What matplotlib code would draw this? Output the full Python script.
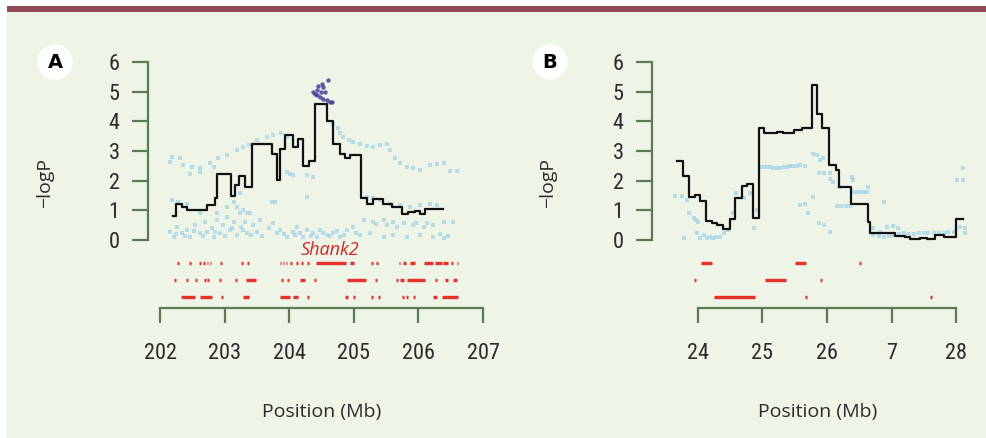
import matplotlib
matplotlib.use("Agg")
import matplotlib.pyplot as plt
from matplotlib.patches import Rectangle
from matplotlib import font_manager as fm
import logging
logging.getLogger('matplotlib.font_manager').setLevel(logging.ERROR)

_installed = {f.name for f in fm.fontManager.ttflist}
_fams = [f for f in ['Liberation Sans Narrow', 'Roboto Condensed', 'DejaVu Sans Condensed',
                     'Open Sans Condensed', 'Roboto'] if f in _installed]
plt.rcParams['font.family'] = _fams[:1] + ['DejaVu Sans']
TITLE_FAM = ['Open Sans', 'DejaVu Sans']

# ---------------- data: panel A ----------------
a_edges = [202.196, 202.248, 202.335, 202.423, 202.733, 202.851, 202.888, 203.094, 203.161,
           203.228, 203.316, 203.419, 203.729, 203.816, 203.858, 203.935, 204.064, 204.141,
           204.219, 204.312, 204.399, 204.580, 204.683, 204.786, 204.864, 204.941, 205.106,
           205.199, 205.302, 205.457, 205.586, 205.741, 205.844, 205.947, 206.025, 206.102, 206.386]
a_vals = [0.81, 1.23, 1.12, 1.01, 1.18, 1.43, 2.22, 1.48, 1.87, 2.15, 1.77, 3.22, 2.91, 2.02,
          3.08, 3.53, 3.14, 3.41, 2.49, 2.67, 4.57, 4.00, 3.23, 2.89, 2.78, 2.87, 1.43, 1.23,
          1.37, 1.21, 1.12, 0.86, 0.93, 0.98, 0.87, 1.03]

a_snp_x = [202.15, 202.31, 202.36, 202.49, 202.62, 202.77, 202.90, 203.03, 203.19, 203.29, 203.37,
           203.50, 203.65, 203.75, 203.88, 203.96, 202.46, 202.62, 202.83, 202.18,
           204.68, 204.76, 204.79, 204.84, 204.92, 204.99, 205.10, 205.20, 205.30, 205.41, 205.51,
           205.56, 205.64, 205.72, 205.82, 205.92, 206.02, 206.18, 206.28, 206.39, 206.49, 206.59,
           203.96, 204.01, 204.06, 204.27, 204.37, 203.73, 203.78, 204.27,
           205.20, 205.30, 205.41, 205.56, 205.72, 205.87, 206.02, 206.18, 206.28,
           205.15, 205.30, 205.46, 205.61, 205.77, 205.92, 206.08, 206.23, 206.39, 206.54,
           205.10, 205.25, 205.46, 205.61, 205.82, 206.02, 206.23, 206.39,
           202.15, 202.21, 202.26, 202.34, 202.41, 202.46, 202.54, 202.62, 202.70, 202.72, 202.80,
           202.83, 202.88, 202.93, 202.98, 203.03, 203.08, 203.14, 203.19, 203.24, 203.26, 203.32,
           203.34, 203.39, 203.44, 203.50, 203.55, 203.75, 203.81, 203.86, 203.96, 204.06, 204.12,
           204.17, 204.22, 204.27, 204.37, 204.43, 204.48, 204.58, 204.68, 204.79, 204.89, 204.99,
           205.04,
           203.24, 203.14, 203.19, 203.29, 203.34, 203.03, 202.18, 202.28, 202.41, 202.62, 202.88,
           202.24, 202.38, 202.52, 202.66, 202.85, 203.00, 203.11, 203.28, 203.41, 203.58, 203.69,
           203.92, 204.09, 204.33, 204.52, 204.63, 204.74, 204.85, 205.35, 205.51, 205.67, 205.97,
           206.13, 206.33, 206.46]
a_snp_y = [2.63, 2.75, 2.52, 2.47, 2.41, 2.58, 2.75, 2.86, 3.03, 3.14, 3.20,
           3.36, 3.48, 3.53, 3.61, 3.48, 2.24, 2.30, 2.47, 2.80,
           3.92, 3.76, 3.59, 3.48, 3.36, 3.31, 3.25, 3.16, 3.14, 3.20, 3.25,
           3.03, 2.75, 2.58, 2.47, 2.41, 2.35, 2.52, 2.56, 2.58, 2.33, 2.33,
           2.30, 2.24, 2.19, 2.19, 2.13, 1.29, 1.27, 1.46,
           1.46, 1.40, 1.35, 1.23, 1.18, 1.12, 1.18, 1.23, 1.18,
           0.67, 0.62, 0.67, 0.62, 0.56, 0.50, 0.45, 0.50, 0.62, 0.62,
           0.17, 0.22, 0.11, 0.17, 0.11, 0.17, 0.11, 0.06,
           0.28, 0.11, 0.45, 0.22, 0.34, 0.11, 0.50, 0.22, 0.62, 0.28, 0.39,
           0.11, 0.67, 0.22, 0.50, 0.78, 0.34, 0.62, 0.17, 0.90, 0.45, 0.62,
           0.22, 0.90, 0.50, 0.28, 0.67, 0.56, 0.22, 0.34, 0.11, 0.28, 0.45,
           0.22, 0.11, 0.34, 0.22, 0.11, 0.34, 0.17, 0.22, 0.11, 0.34, 0.45,
           0.22,
           1.57, 1.29, 1.12, 1.01, 0.90, 1.12, 1.35, 1.29, 1.23, 0.90, 0.90,
           0.20, 0.15, 0.30, 0.14, 0.28, 0.15, 0.42, 0.35, 0.18, 0.12, 0.40,
           0.20, 0.18, 0.12, 0.25, 0.14, 0.30, 0.16, 0.55, 0.50, 0.45, 0.58,
           0.56, 0.20, 0.15]

a_top_x = [204.40, 204.43, 204.45, 204.50, 204.53, 204.55, 204.48, 204.53, 204.58, 204.63,
           204.67, 204.60, 204.43, 204.49, 204.37]
a_top_y = [4.93, 5.04, 5.20, 5.27, 5.16, 4.99, 4.82, 4.76, 4.71, 4.65, 4.65, 5.38, 4.88, 4.99, 4.99]

a_gene_start = [202.26, 202.45, 202.61, 202.67, 202.73, 202.77, 202.93, 203.26, 203.35, 203.85,
                203.90, 203.95, 204.01, 204.11, 204.19, 204.27, 204.42, 204.94, 205.27, 205.35,
                205.70, 205.76, 205.87, 206.09, 206.25, 206.38, 206.51, 206.59,
                202.22, 202.40, 202.54, 202.68, 202.73, 202.92, 203.16, 203.33, 203.87, 203.97,
                204.16, 204.39, 204.90, 205.33, 205.65, 205.72, 205.83, 206.25, 206.41, 206.54,
                202.32, 202.62, 202.94, 203.28, 203.85, 204.06, 204.27, 204.86, 204.99, 205.27,
                205.38, 205.74, 205.81, 205.92, 206.22, 206.36]
a_gene_end = [202.29, 202.48, 202.63, 202.70, 202.75, 202.79, 202.96, 203.29, 203.38, 203.87,
              203.92, 203.97, 204.04, 204.14, 204.22, 204.30, 204.88, 205.00, 205.30, 205.38,
              205.72, 205.81, 205.94, 206.22, 206.36, 206.46, 206.54, 206.62,
              202.25, 202.43, 202.57, 202.71, 202.76, 202.95, 203.19, 203.49, 203.90, 204.00,
              204.24, 204.42, 205.19, 205.36, 205.68, 205.77, 206.10, 206.28, 206.46, 206.59,
              202.54, 202.80, 202.97, 203.38, 204.01, 204.14, 204.30, 204.91, 205.02, 205.30,
              205.41, 205.77, 205.84, 205.95, 206.28, 206.61]
a_gene_row = [1] * 28 + [2] * 20 + [3] * 16

# ---------------- data: panel B ----------------
b_edges = [23.675, 23.768, 23.866, 23.959, 24.036, 24.129, 24.217, 24.294, 24.398, 24.501,
           24.578, 24.681, 24.769, 24.862, 24.950, 25.027, 25.224, 25.327, 25.492, 25.611,
           25.766, 25.843, 25.931, 26.039, 26.142, 26.194, 26.370, 26.643, 26.669, 26.927,
           27.056, 27.211, 27.289, 27.444, 27.547, 27.676, 27.805, 28.001, 28.104]
b_vals = [2.67, 2.15, 1.46, 1.51, 1.32, 0.64, 0.58, 0.50, 0.37, 0.71, 1.43, 1.82, 1.88, 0.73,
          3.79, 3.59, 3.64, 3.62, 3.72, 3.76, 5.21, 4.23, 3.76, 2.52, 2.35, 1.79, 1.23, 0.62,
          0.25, 0.22, 0.15, 0.09, 0.02, 0.06, 0.02, 0.17, 0.11, 0.70]

b_snp_x = [23.65, 23.75, 23.83, 23.86, 23.94, 23.98, 24.01, 23.78,
           23.99, 24.09, 24.19, 24.29, 24.40, 24.47, 24.04, 24.14, 24.24, 24.34,
           24.55, 24.60, 24.71, 24.81, 24.87, 24.92,
           24.97, 25.02, 25.07, 25.12, 25.17, 25.22, 25.28, 25.33, 25.38, 25.43, 25.48, 25.53,
           25.58, 25.66,
           25.58, 25.66, 25.71,
           25.79, 25.84, 25.89, 25.94,
           25.87, 25.95, 26.05,
           25.87, 25.95, 26.05, 25.79,
           26.05, 26.10, 26.18,
           26.15, 26.22, 26.30, 26.36,
           26.39, 26.41, 26.41, 26.47, 26.51, 26.57, 26.62, 26.64, 26.88,
           26.72, 26.82, 26.93, 27.03, 27.10,
           26.72, 26.80, 26.88, 26.96, 27.03, 27.11, 27.19, 27.27, 27.34, 27.42, 27.50, 27.57,
           27.65, 27.73, 27.81, 27.88, 27.96,
           28.01, 28.11, 28.11, 28.06, 28.14, 28.14]
b_snp_y = [1.48, 1.48, 1.35, 0.90, 0.73, 0.67, 0.62, 0.06,
           0.25, 0.17, 0.11, 0.11, 0.22, 0.34, 0.08, 0.06, 0.08, 0.10,
           0.90, 1.57, 1.40, 1.57, 0.39, 1.01,
           2.47, 2.46, 2.47, 2.45, 2.44, 2.43, 2.43, 2.45, 2.47, 2.48, 2.49, 2.50,
           2.52, 2.49,
           1.18, 1.23, 0.90,
           2.89, 2.86, 2.71, 2.75,
           2.26, 2.26, 2.26,
           0.56, 0.50, 0.28, 1.46,
           2.07, 1.96, 1.79,
           1.14, 1.14, 1.14, 1.14,
           2.13, 2.02, 1.63, 1.63, 1.63, 1.63, 1.63, 1.79, 1.27,
           0.39, 0.28, 0.45, 0.47, 0.40,
           0.17, 0.14, 0.11, 0.14, 0.17, 0.20, 0.22, 0.21, 0.20, 0.22, 0.25, 0.24,
           0.22, 0.24, 0.25, 0.26, 0.28,
           2.02, 2.02, 2.41, 0.45, 0.39, 0.22]

b_gene_start = [24.05, 25.51, 26.49, 23.94, 25.04, 25.90, 24.25, 25.66, 27.59]
b_gene_end = [24.22, 25.68, 26.52, 23.97, 25.37, 25.93, 24.89, 25.69, 27.62]
b_gene_row = [1, 1, 1, 2, 2, 2, 3, 3, 3]

a_ticks = [202, 203, 204, 205, 206, 207]
a_ticklabels = ["202", "203", "204", "205", "206", "207"]
b_ticks = [24, 25, 26, 27, 28]
b_ticklabels = ["24", "25", "26", "7", "28"]
y_ticks = [0, 1, 2, 3, 4, 5, 6]
row_y = {1: -0.78, 2: -1.35, 3: -1.92}

# ---------------- styling ----------------
W, H = 987, 438
BG = '#eef4e6'
SPINE = '#5d7a55'
TXT = '#2b2b2b'
LIGHT = '#9fd2e6'
DARK = '#3b3596'
RED = '#e8302a'
FS = 16 if _fams and _fams[0] != 'Roboto' else 15

fig = plt.figure(figsize=(W / 100, H / 100), dpi=100, facecolor='white')
fig.patches.append(Rectangle((7 / W, 0), 980 / W, 426 / H, transform=fig.transFigure,
                             facecolor=BG, edgecolor='none', zorder=-10))
fig.patches.append(Rectangle((7 / W, (H - 12) / H), 980 / W, 6 / H, transform=fig.transFigure,
                             facecolor='#8f4a53', edgecolor='none', zorder=-9))

PX_Y = 29.67   # px per -logP unit
PX_X = 64.6    # px per Mb
YMIN, YMAX = -3.0, 6.3


def make_axes(left_px, x0, x1):
    top_px = 240 - YMAX * PX_Y
    bot_px = 240 - YMIN * PX_Y
    width_px = (x1 - x0) * PX_X
    ax = fig.add_axes([left_px / W, (H - bot_px) / H, width_px / W, (bot_px - top_px) / H])
    ax.set_facecolor('none')
    ax.set_xlim(x0, x1)
    ax.set_ylim(YMIN, YMAX)
    for s in ['top', 'right']:
        ax.spines[s].set_visible(False)
    for s in ['left', 'bottom']:
        ax.spines[s].set_color(SPINE)
        ax.spines[s].set_linewidth(1.6)
    ax.spines['left'].set_bounds(0, 6)
    ax.spines['bottom'].set_position(('data', (240 - 308) / PX_Y))
    ax.set_yticks(y_ticks)
    ax.set_yticklabels([str(t) for t in y_ticks])
    ax.tick_params(axis='y', direction='out', length=11.5, width=1.6, color=SPINE,
                   labelsize=FS, labelcolor=TXT, pad=9)
    ax.tick_params(axis='x', direction='out', length=11, width=1.6, color=SPINE,
                   labelsize=FS, labelcolor=TXT, pad=14)
    return ax


def draw_genes(ax, starts, ends, rows):
    for s, e, r in zip(starts, ends, rows):
        ax.plot([s, e], [row_y[r], row_y[r]], color=RED, lw=2.4, solid_capstyle='butt',
                clip_on=False)


# Panel A
axA = make_axes(148, 201.814, 207.1)
axA.scatter(a_snp_x, a_snp_y, s=5, marker='s', color=LIGHT, alpha=0.7, linewidths=0, zorder=2)
axA.scatter(a_top_x, a_top_y, s=10, marker='o', color=DARK, alpha=0.8, linewidths=0, zorder=3)
axA.step(a_edges, a_vals + [a_vals[-1]], where='post', color='#111111', lw=1.6, zorder=4)
draw_genes(axA, a_gene_start, a_gene_end, a_gene_row)
axA.text(204.63, -0.34, 'Shank2', color='#d3262b', style='italic', fontsize=13,
         family=TITLE_FAM, ha='center', va='center')
axA.spines['bottom'].set_bounds(202, 207)
axA.set_xticks(a_ticks)
axA.set_xticklabels(a_ticklabels)

# Panel B
axB = make_axes(652, 23.292, 28.25)
axB.scatter(b_snp_x, b_snp_y, s=5, marker='s', color=LIGHT, alpha=0.7, linewidths=0, zorder=2)
axB.step(b_edges, b_vals + [b_vals[-1]], where='post', color='#111111', lw=1.6, zorder=4)
draw_genes(axB, b_gene_start, b_gene_end, b_gene_row)
axB.spines['bottom'].set_bounds(24, 28)
axB.set_xticks(b_ticks)
axB.set_xticklabels(b_ticklabels)

# labels
for cx in [45, 548]:
    fig.text(cx / W, 1 - 183 / H, '\u2212logP', rotation=90, ha='center', va='center',
             fontsize=14, color=TXT, family=TITLE_FAM)
for cx in [322, 818]:
    fig.text(cx / W, 1 - 412 / H, 'Position (Mb)', ha='center', va='center',
             fontsize=14, color=TXT, family=TITLE_FAM)
for cx, lab in [(55, 'A'), (550, 'B')]:
    fig.text(cx / W, 1 - 62 / H, lab, ha='center', va='center', fontsize=14,
             fontweight='bold', color='black', family=['DejaVu Sans'],
             bbox=dict(boxstyle='circle,pad=0.42', fc='white', ec='none'))

fig.savefig('out.png', dpi=100, facecolor='white')
